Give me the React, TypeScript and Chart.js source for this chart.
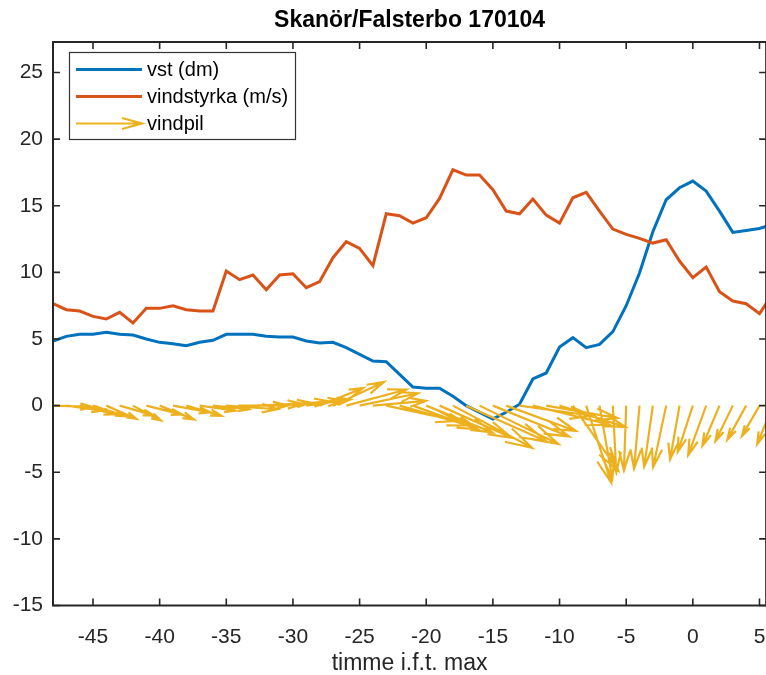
import React, { useEffect, useRef } from 'react';
import { Chart, registerables } from 'chart.js';

Chart.register(...registerables);

const FONT = "'Liberation Sans', Arial, Helvetica, sans-serif";
const TITLE = 'Skanör/Falsterbo 170104';
const X_LABEL = 'timme i.f.t. max';

const hours = [-48, -47, -46, -45, -44, -43, -42, -41, -40, -39, -38, -37, -36, -35, -34, -33, -32, -31, -30, -29, -28, -27, -26, -25, -24, -23, -22, -21, -20, -19, -18, -17, -16, -15, -14, -13, -12, -11, -10, -9, -8, -7, -6, -5, -4, -3, -2, -1, 0, 1, 2, 3, 4, 5, 6];

const vst = [4.85, 5.2, 5.35, 5.35, 5.5, 5.35, 5.3, 5.0, 4.75, 4.65, 4.5, 4.75, 4.9, 5.35, 5.35, 5.35, 5.2, 5.15, 5.15, 4.85, 4.7, 4.75, 4.35, 3.85, 3.35, 3.3, 2.35, 1.4, 1.3, 1.3, 0.7, 0.0, -0.5, -1.0, -0.5, 0.1, 2.0, 2.45, 4.4, 5.1, 4.35, 4.6, 5.55, 7.5, 9.95, 13.05, 15.45, 16.35, 16.85, 16.1, 14.6, 13.0, 13.15, 13.3, 13.6];

const vindstyrka = [7.65, 7.2, 7.1, 6.7, 6.5, 7.0, 6.2, 7.3, 7.3, 7.5, 7.2, 7.1, 7.1, 10.1, 9.45, 9.8, 8.7, 9.8, 9.9, 8.85, 9.3, 11.1, 12.3, 11.8, 10.5, 14.4, 14.25, 13.7, 14.1, 15.55, 17.7, 17.3, 17.3, 16.2, 14.6, 14.4, 15.5, 14.3, 13.7, 15.6, 16.0, 14.6, 13.25, 12.85, 12.55, 12.2, 12.45, 10.85, 9.6, 10.4, 8.55, 7.85, 7.65, 6.9, 8.4];

// vindpil (quiver) components, in axis units, arrows start at (hour, 0)
const pilU = [2.93, 2.71, 2.62, 2.42, 2.26, 2.56, 2.08, 2.69, 2.57, 2.81, 2.63, 2.67, 2.69, 3.83, 3.57, 3.72, 3.30, 3.71, 3.74, 3.31, 3.27, 3.82, 4.51, 4.38, 3.97, 5.35, 5.19, 4.89, 4.97, 5.42, 5.94, 6.00, 5.91, 5.71, 5.22, 5.42, 5.71, 5.35, 4.95, 3.40, 1.88, 0.96, 0.26, -0.17, -0.41, -0.65, -0.98, -0.71, -1.13, -1.35, -1.28, -1.30, -1.41, -1.31, -1.17];
const pilV = [-0.10, -0.38, -0.65, -0.79, -1.00, -0.73, -1.11, -0.67, -1.04, -0.50, -0.76, -0.38, -0.28, -0.27, 0.00, 0.13, 0.23, 0.32, 0.39, 0.46, 1.32, 1.78, 1.21, 0.93, 0.35, -1.14, -1.49, -1.78, -2.01, -2.41, -3.16, -2.67, -2.88, -2.31, -1.90, -0.76, -1.42, -0.94, -1.61, -4.86, -5.78, -5.47, -5.01, -4.86, -4.73, -4.59, -4.61, -4.04, -3.47, -3.71, -3.01, -2.66, -2.55, -2.27, -2.89];

const xTicks = [-45, -40, -35, -30, -25, -20, -15, -10, -5, 0, 5];
const yTicks = [-15, -10, -5, 0, 5, 10, 15, 20, 25];

const legendLabels = ['vst (dm)', 'vindstyrka (m/s)', 'vindpil'];
const COLORS = ['#0072BD', '#D95319', '#EDB120'];

const HEAD_ALPHA = 0.3;
const HEAD_BETA = 0.28;

function buildQuiver() {
  const pts: { x: number; y: number | null }[] = [];
  for (let i = 0; i < hours.length; i++) {
    const x0 = hours[i];
    const u = pilU[i];
    const v = pilV[i];
    const x1 = x0 + u;
    const y1 = v;
    pts.push({ x: x0, y: 0 });
    pts.push({ x: x1, y: y1 });
    pts.push({ x: x1, y: null });
    pts.push({ x: x1 - HEAD_ALPHA * (u + HEAD_BETA * v), y: y1 - HEAD_ALPHA * (v - HEAD_BETA * u) });
    pts.push({ x: x1, y: y1 });
    pts.push({ x: x1 - HEAD_ALPHA * (u - HEAD_BETA * v), y: y1 - HEAD_ALPHA * (v + HEAD_BETA * u) });
    pts.push({ x: x1, y: null });
  }
  return pts;
}

const framePlugin = {
  id: 'matlabFrame',
  afterDraw(chart: any) {
    const { ctx, chartArea: a, scales } = chart;
    const xs = scales.x;
    const ys = scales.y;
    ctx.save();
    ctx.strokeStyle = '#262626';
    ctx.lineWidth = 2;
    ctx.strokeRect(a.left, a.top, a.right - a.left, a.bottom - a.top);
    ctx.lineWidth = 1.6;
    ctx.beginPath();
    for (const t of xTicks) {
      const px = xs.getPixelForValue(t);
      ctx.moveTo(px, a.bottom);
      ctx.lineTo(px, a.bottom - 7);
      ctx.moveTo(px, a.top);
      ctx.lineTo(px, a.top + 7);
    }
    for (const t of yTicks) {
      const py = ys.getPixelForValue(t);
      ctx.moveTo(a.left, py);
      ctx.lineTo(a.left + 7, py);
      ctx.moveTo(a.right, py);
      ctx.lineTo(a.right - 7, py);
    }
    ctx.stroke();

    ctx.fillStyle = '#000000';
    ctx.font = `bold 23px ${FONT}`;
    ctx.textAlign = 'center';
    ctx.textBaseline = 'middle';
    ctx.fillText(TITLE, (a.left + a.right) / 2, 21);

    const bx = 69, by = 52, bw = 226, bh = 87;
    ctx.fillStyle = '#ffffff';
    ctx.fillRect(bx, by, bw, bh);
    ctx.strokeStyle = '#333333';
    ctx.lineWidth = 1.2;
    ctx.strokeRect(bx + 0.5, by + 0.5, bw, bh);
    const rows = [69.5, 96.5, 123.5];
    ctx.font = `20px ${FONT}`;
    ctx.textAlign = 'left';
    for (let i = 0; i < legendLabels.length; i++) {
      const ry = rows[i];
      ctx.strokeStyle = COLORS[i];
      ctx.lineWidth = i < 2 ? 3 : 2.2;
      ctx.beginPath();
      ctx.moveTo(76, ry);
      ctx.lineTo(142, ry);
      if (i === 2) {
        ctx.moveTo(122, ry - 5.5);
        ctx.lineTo(142, ry);
        ctx.lineTo(122, ry + 5.5);
      }
      ctx.stroke();
      ctx.fillStyle = '#000000';
      ctx.fillText(legendLabels[i], 147, ry + 1);
    }
    ctx.restore();
  },
};

export default function App() {
  const ref = useRef<HTMLCanvasElement | null>(null);

  useEffect(() => {
    document.body.style.margin = '0';
    const canvas = ref.current;
    if (!canvas) return;
    const W = 800;
    const xMin = -48;
    const xMax = 5.5;
    const left = 53;
    const pxPerUnit = 13.33;
    const right = left + (xMax - xMin) * pxPerUnit;

    const chart = new Chart(canvas, {
      type: 'line',
      data: {
        datasets: [
          {
            label: legendLabels[0],
            data: hours.map((h, i) => ({ x: h, y: vst[i] })),
            borderColor: COLORS[0],
            backgroundColor: COLORS[0],
            borderWidth: 3,
            pointRadius: 0,
            tension: 0,
            order: 3,
          },
          {
            label: legendLabels[1],
            data: hours.map((h, i) => ({ x: h, y: vindstyrka[i] })),
            borderColor: COLORS[1],
            backgroundColor: COLORS[1],
            borderWidth: 3,
            pointRadius: 0,
            tension: 0,
            order: 2,
          },
          {
            label: legendLabels[2],
            data: buildQuiver(),
            borderColor: COLORS[2],
            backgroundColor: COLORS[2],
            borderWidth: 2.2,
            pointRadius: 0,
            tension: 0,
            spanGaps: false,
            order: 1,
          },
        ],
      } as any,
      options: {
        animation: false,
        responsive: false,
        maintainAspectRatio: false,
        devicePixelRatio: 1,
        events: [],
        layout: { padding: { top: 42, right: W - right, left: 0, bottom: 0 } },
        plugins: {
          legend: { display: false },
          tooltip: { enabled: false },
          title: { display: false },
        },
        scales: {
          x: {
            type: 'linear',
            min: xMin,
            max: xMax,
            afterBuildTicks: (s: any) => {
              s.ticks = xTicks.map((v) => ({ value: v }));
            },
            afterFit: (s: any) => {
              s.height = 69.5;
            },
            grid: { display: false, drawTicks: false },
            border: { display: false },
            ticks: {
              font: { family: FONT, size: 21 },
              color: '#262626',
              padding: 19,
              maxRotation: 0,
              autoSkip: false,
              includeBounds: false,
              callback: (v: any) => String(v),
            },
            title: {
              display: true,
              text: X_LABEL,
              color: '#262626',
              font: { family: FONT, size: 23, lineHeight: 1 },
              padding: { top: 0, bottom: 0 },
            },
          },
          y: {
            type: 'linear',
            min: -15,
            max: 27.29,
            afterBuildTicks: (s: any) => {
              s.ticks = yTicks.map((v) => ({ value: v }));
            },
            afterFit: (s: any) => {
              s.width = left;
            },
            grid: { display: false, drawTicks: false },
            border: { display: false },
            ticks: {
              font: { family: FONT, size: 21 },
              color: '#262626',
              padding: 10,
              autoSkip: false,
              includeBounds: false,
              callback: (v: any) => String(v),
            },
          },
        },
      } as any,
      plugins: [framePlugin],
    });
    return () => chart.destroy();
  }, []);

  return (
    <div style={{ width: 766, height: 675, overflow: 'hidden', background: '#ffffff' }}>
      <canvas ref={ref} width={800} height={675} style={{ display: 'block' }} />
    </div>
  );
}
